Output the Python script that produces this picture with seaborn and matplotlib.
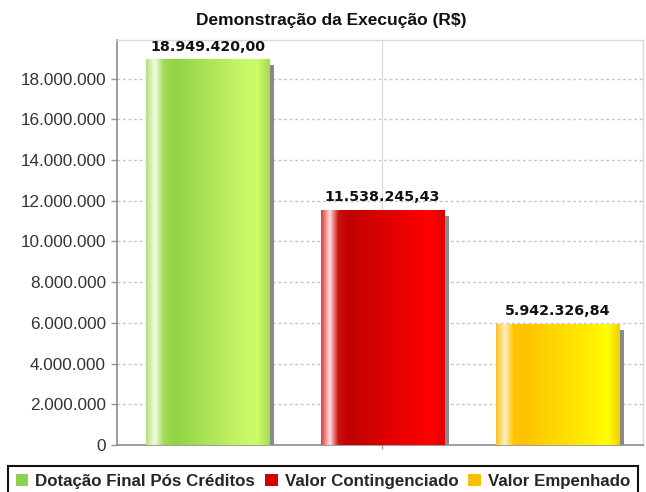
import numpy as np
import pandas as pd
import matplotlib
matplotlib.use("Agg")
import matplotlib.pyplot as plt
import matplotlib.transforms as mtransforms
from matplotlib.colors import LinearSegmentedColormap
from matplotlib.patches import Rectangle
import seaborn as sns

# ---- data ----
categories = ["Dotação Final Pós Créditos", "Valor Contingenciado", "Valor Empenhado"]
values = [18949420.00, 11538245.43, 5942326.84]
value_labels = ["18.949.420,00", "11.538.245,43", "5.942.326,84"]
y_ticks = [0, 2000000, 4000000, 6000000, 8000000, 10000000, 12000000,
           14000000, 16000000, 18000000]
title = "Demonstração da Execução (R$)"

base_colors = ["#8fd14f", "#d00000", "#f8c000"]
gradients = [
    [(0.0, "#b4e07c"), (0.07, "#f0fde0"), (0.14, "#a6da5c"), (0.22, "#90d346"),
     (0.78, "#c6f566"), (0.9, "#ccfb6a"), (1.0, "#a6da55")],
    [(0.0, "#d83a3a"), (0.07, "#ffdede"), (0.14, "#cc1010"), (0.22, "#c00000"),
     (0.8, "#f80000"), (0.9, "#ff0000"), (1.0, "#de0000")],
    [(0.0, "#ffc21a"), (0.07, "#fff0c8"), (0.14, "#ffc400"), (0.22, "#ffc200"),
     (0.8, "#fff200"), (0.9, "#ffff00"), (1.0, "#f2d000")],
]

sns.set_theme(style="white")
plt.rcParams["font.family"] = ["DejaVu Sans"]

W, H = 646, 492
fig = plt.figure(figsize=(W / 100, H / 100), dpi=100)
ax = fig.add_axes([117 / W, 1 - 445 / H, (643 - 117) / W, (445 - 40) / H])

df = pd.DataFrame({"cat": categories, "val": values})
sns.barplot(data=df, x="cat", y="val", hue="cat", palette=base_colors,
            width=0.703, legend=False, ax=ax, zorder=3, saturation=1)

ax.set_xlim(-0.517, 2.489)
ax.set_ylim(0, 19900000)

# shadows + gradients
shadow_tr = mtransforms.offset_copy(ax.transData, fig=fig, x=5, y=-6, units="dots")
for i, p in enumerate(ax.patches[:3]):
    x0, y0 = p.get_x(), p.get_y()
    w, h = p.get_width(), p.get_height()
    sh = Rectangle((x0, y0), w, h, transform=shadow_tr, facecolor="#8a8a8a",
                   edgecolor="none", zorder=2)
    ax.add_patch(sh)
    p.set_edgecolor("none")
    cmap = LinearSegmentedColormap.from_list(f"g{i}", gradients[i])
    grad = np.linspace(0, 1, 256).reshape(1, -1)
    im = ax.imshow(grad, cmap=cmap, aspect="auto", extent=(x0, x0 + w, y0, y0 + h),
                   zorder=4, interpolation="bilinear")
    im.set_clip_path(p)
    ax.text(x0 + w / 2, y0 + h + 280000, value_labels[i], ha="center", va="bottom",
            fontsize=10.3, fontweight="bold", color="#111111", zorder=6)

ax.set_xlim(-0.517, 2.489)
ax.set_ylim(0, 19900000)

# grid
ax.set_yticks(y_ticks)
ax.set_yticklabels([f"{v:,.0f}".replace(",", ".") for v in y_ticks],
                   fontsize=12.3, color="#333333", family=["Liberation Sans", "DejaVu Sans"])
for v in y_ticks[1:]:
    ax.axhline(v, color="#c4c4c4", lw=1, ls=(0, (2, 2)), zorder=1)
ax.axvline(1, color="#dcdcdc", lw=1, zorder=1)

ax.set_xticks([1])
ax.set_xticklabels([""])
ax.set_xlabel("")
ax.set_ylabel("")
ax.tick_params(axis="y", length=4, width=1, color="#999999", pad=4, left=True)
ax.tick_params(axis="x", length=3, width=1, color="#999999", bottom=True)

for s in ["left", "bottom"]:
    ax.spines[s].set_color("#8c8c8c")
    ax.spines[s].set_linewidth(1.2)
for s in ["top", "right"]:
    ax.spines[s].set_color("#dadada")
    ax.spines[s].set_linewidth(1)

fig.text(331 / W, 1 - 20 / H, title, ha="center", va="center", fontsize=12.5,
         fontweight="bold", color="#111111",
         family=["Liberation Sans", "DejaVu Sans"])

handles = [Rectangle((0, 0), 1, 1, facecolor=c, edgecolor="none") for c in base_colors]
leg = fig.legend(handles, categories, loc="upper left",
                 bbox_to_anchor=(8 / W, 1 - 466 / H), ncol=3, frameon=True,
                 fancybox=False, edgecolor="#111111", framealpha=1,
                 prop={"family": ["Liberation Sans", "DejaVu Sans"],
                       "weight": "bold", "size": 12.2},
                 handlelength=0.75, handleheight=0.75, handletextpad=0.4,
                 columnspacing=0.6, borderpad=0.45, borderaxespad=0)
leg.get_frame().set_linewidth(1.5)

fig.savefig("out.png", dpi=100, facecolor="white")
